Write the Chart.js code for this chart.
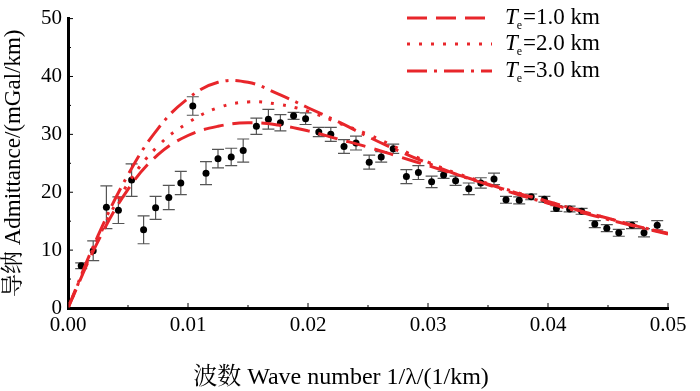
<!DOCTYPE html>
<html>
<head>
<meta charset="utf-8">
<script src="https://cdn.jsdelivr.net/npm/chart.js@4.4.1/dist/chart.umd.min.js"></script>
<style>
  html, body { margin: 0; padding: 0; background: #fff; }
  #wrap { width: 700px; height: 391px; }
</style>
</head>
<body>
<div id="wrap"><canvas id="admChart"></canvas></div>
<script>
// observed admittance (wave number, value, error)
var obsK = [0.0011, 0.0021, 0.0032, 0.0042, 0.0053, 0.0063, 0.0073, 0.0084, 0.0094, 0.0104,
            0.0115, 0.0125, 0.0136, 0.0146, 0.0157, 0.0167, 0.0177, 0.0188, 0.0198, 0.0209,
            0.0219, 0.0230, 0.0240, 0.0251, 0.0261, 0.0271, 0.0282, 0.0292, 0.0303, 0.0313,
            0.0323, 0.0334, 0.0344, 0.0355, 0.0365, 0.0376, 0.0386, 0.0397, 0.0407, 0.0418,
            0.0428, 0.0439, 0.0449, 0.0459, 0.0470, 0.0480, 0.0491];
var obsAdm = [7.3, 9.9, 17.4, 16.9, 22.1, 13.5, 17.3, 19.1, 21.6, 34.9,
              23.3, 25.8, 26.1, 27.2, 31.4, 32.6, 32.0, 33.2, 32.7, 30.4,
              30.0, 27.9, 28.5, 25.2, 26.1, 27.5, 22.7, 23.4, 21.8, 23.0,
              22.0, 20.6, 21.6, 22.3, 18.7, 18.6, 19.2, 18.8, 17.2, 17.1,
              16.7, 14.5, 13.8, 13.0, 14.3, 13.0, 14.3];
var obsErr = [0.5, 1.7, 3.7, 2.3, 2.8, 2.4, 2.0, 2.1, 2.0, 1.6,
              2.0, 1.6, 1.5, 2.0, 1.4, 1.7, 1.4, 0.6, 1.0, 0.8,
              1.2, 1.2, 1.2, 1.2, 0.9, 0.8, 1.2, 1.2, 1.0, 0.6,
              0.8, 1.0, 0.9, 1.0, 0.6, 0.6, 0.5, 0.5, 0.5, 0.5,
              0.5, 0.6, 0.6, 0.6, 0.6, 0.7, 0.8];

// model curves
var modelK = [0, 0.0025, 0.005, 0.0075, 0.01, 0.0125, 0.015, 0.0175, 0.02, 0.0225, 0.025,
              0.0275, 0.03, 0.0325, 0.035, 0.0375, 0.04, 0.0425, 0.045, 0.0475, 0.05];
var te1 = [0, 11.5, 20.5, 26.5, 29.8, 31.4, 32.0, 31.6, 30.6, 29.2, 27.8,
           26.2, 24.6, 23.0, 21.4, 19.8, 18.4, 16.9, 15.5, 14.1, 12.9];
var te2 = [0, 12.0, 21.5, 28.0, 32.0, 34.6, 35.6, 35.2, 34.0, 32.0, 30.0,
           27.6, 25.2, 23.2, 21.5, 19.9, 18.4, 16.9, 15.5, 14.1, 12.9];
var te3 = [0, 12.5, 23.0, 31.0, 36.2, 39.0, 39.0, 37.0, 34.6, 32.2, 29.6,
           27.2, 25.0, 23.0, 21.3, 19.6, 18.1, 16.7, 15.3, 14.0, 12.8];
var legendLabels = ['=1.0 km', '=2.0 km', '=3.0 km'];

var xTicks = [0, 0.01, 0.02, 0.03, 0.04, 0.05];
var yTicks = [0, 10, 20, 30, 40, 50];

var RED = '#e8262b';
var SERIF = "'Liberation Serif', 'Noto Serif CJK SC', 'Noto Sans CJK SC', serif";
var dashes = [[20, 9], [3, 9], [20, 7, 3, 7]];

function pts(xs, ys) {
    return xs.map(function (x, i) { return { x: x, y: ys[i] }; });
}

// error bars, inward ticks, legend, x title
var extras = {
    id: 'extras',
    beforeDatasetsDraw: function (chart) {
        var ctx = chart.ctx, xs = chart.scales.x, ys = chart.scales.y;
        ctx.save();
        ctx.strokeStyle = '#555';
        ctx.lineWidth = 1.2;
        for (var i = 0; i < obsK.length; i++) {
            var px = xs.getPixelForValue(obsK[i]);
            var top = ys.getPixelForValue(obsAdm[i] + obsErr[i]);
            var bot = ys.getPixelForValue(obsAdm[i] - obsErr[i]);
            ctx.beginPath();
            ctx.moveTo(px, top); ctx.lineTo(px, bot);
            ctx.moveTo(px - 6, top); ctx.lineTo(px + 6, top);
            ctx.moveTo(px - 6, bot); ctx.lineTo(px + 6, bot);
            ctx.stroke();
        }
        ctx.restore();
    },
    afterDraw: function (chart) {
        var ctx = chart.ctx, xs = chart.scales.x, ys = chart.scales.y;
        var area = chart.chartArea;
        ctx.save();
        // inward ticks
        ctx.strokeStyle = '#000';
        ctx.lineWidth = 1;
        ctx.beginPath();
        for (var v = 0; v <= 0.05001; v += 0.005) {
            var px = xs.getPixelForValue(v);
            var len = Math.round(v * 1000) % 10 === 0 ? 5 : 3;
            ctx.moveTo(px, area.bottom); ctx.lineTo(px, area.bottom - len);
        }
        for (var w = 0; w <= 50; w += 5) {
            var py = ys.getPixelForValue(w);
            var len2 = w % 10 === 0 ? 5 : 3;
            ctx.moveTo(area.left, py); ctx.lineTo(area.left + len2, py);
        }
        ctx.stroke();

        // legend
        var rows = [18, 44, 71];
        for (var r = 0; r < 3; r++) {
            ctx.strokeStyle = RED;
            ctx.lineWidth = 3;
            ctx.setLineDash(dashes[r]);
            ctx.beginPath();
            ctx.moveTo(407, rows[r]); ctx.lineTo(492, rows[r]);
            ctx.stroke();
            ctx.setLineDash([]);
            ctx.fillStyle = '#000';
            ctx.textBaseline = 'middle';
            ctx.textAlign = 'left';
            ctx.font = 'italic 23px ' + SERIF;
            ctx.fillText('T', 505, rows[r]);
            var tw = ctx.measureText('T').width;
            ctx.font = '12px ' + SERIF;
            ctx.fillText('e', 505 + tw - 1, rows[r] + 8);
            var ew = ctx.measureText('e').width;
            ctx.font = '23px ' + SERIF;
            ctx.fillText(legendLabels[r], 505 + tw + ew, rows[r]);
        }

        // x title
        ctx.font = '24px ' + SERIF;
        ctx.textAlign = 'center';
        ctx.textBaseline = 'middle';
        ctx.fillStyle = '#000';
        ctx.fillText('波数 Wave number 1/λ/(1/km)', 341, 378);
        ctx.restore();
    }
};

Chart.defaults.font.family = SERIF;
Chart.defaults.color = '#000';

var ctx = document.getElementById('admChart').getContext('2d');
var admChart = new Chart(ctx, {
    type: 'scatter',
    data: {
        datasets: [
            {
                label: 'Te=1.0 km',
                data: pts(modelK, te1),
                showLine: true,
                borderColor: RED,
                borderWidth: 3,
                borderDash: dashes[0],
                pointRadius: 0,
                tension: 0.4,
                order: 1
            },
            {
                label: 'Te=2.0 km',
                data: pts(modelK, te2),
                showLine: true,
                borderColor: RED,
                borderWidth: 3,
                borderDash: dashes[1],
                pointRadius: 0,
                tension: 0.4,
                order: 1
            },
            {
                label: 'Te=3.0 km',
                data: pts(modelK, te3),
                showLine: true,
                borderColor: RED,
                borderWidth: 3,
                borderDash: dashes[2],
                pointRadius: 0,
                tension: 0.4,
                order: 1
            },
            {
                label: 'observed',
                data: pts(obsK, obsAdm),
                pointRadius: 3.5,
                pointBackgroundColor: '#000',
                pointBorderWidth: 0,
                order: 2
            }
        ]
    },
    options: {
        responsive: true,
        maintainAspectRatio: false,
        animation: false,
        layout: { padding: { top: 10, right: 32, left: 0, bottom: 0 } },
        plugins: {
            legend: { display: false },
            tooltip: { enabled: false }
        },
        scales: {
            x: {
                type: 'linear',
                min: 0,
                max: 0.05,
                afterFit: function (scale) { scale.height = 83; },
                afterBuildTicks: function (scale) {
                    scale.ticks = xTicks.map(function (v) { return { value: v }; });
                },
                ticks: {
                    font: { size: 21 },
                    padding: 5,
                    maxRotation: 0,
                    callback: function (v) { return v.toFixed(2); }
                },
                grid: { display: true, drawOnChartArea: false, drawTicks: false },
                border: { color: '#000', width: 3 }
            },
            y: {
                min: 0,
                max: 50,
                afterFit: function (scale) { scale.width = 68; },
                afterBuildTicks: function (scale) {
                    scale.ticks = yTicks.map(function (v) { return { value: v }; });
                },
                ticks: { font: { size: 21 }, padding: 6 },
                grid: { display: true, drawOnChartArea: false, drawTicks: false },
                border: { color: '#000', width: 3 },
                title: {
                    display: true,
                    text: '导纳 Admittance/(mGal/km)',
                    font: { size: 23 },
                    padding: { top: 0, bottom: 0 }
                }
            }
        }
    },
    plugins: [extras]
});
</script>
</body>
</html>
